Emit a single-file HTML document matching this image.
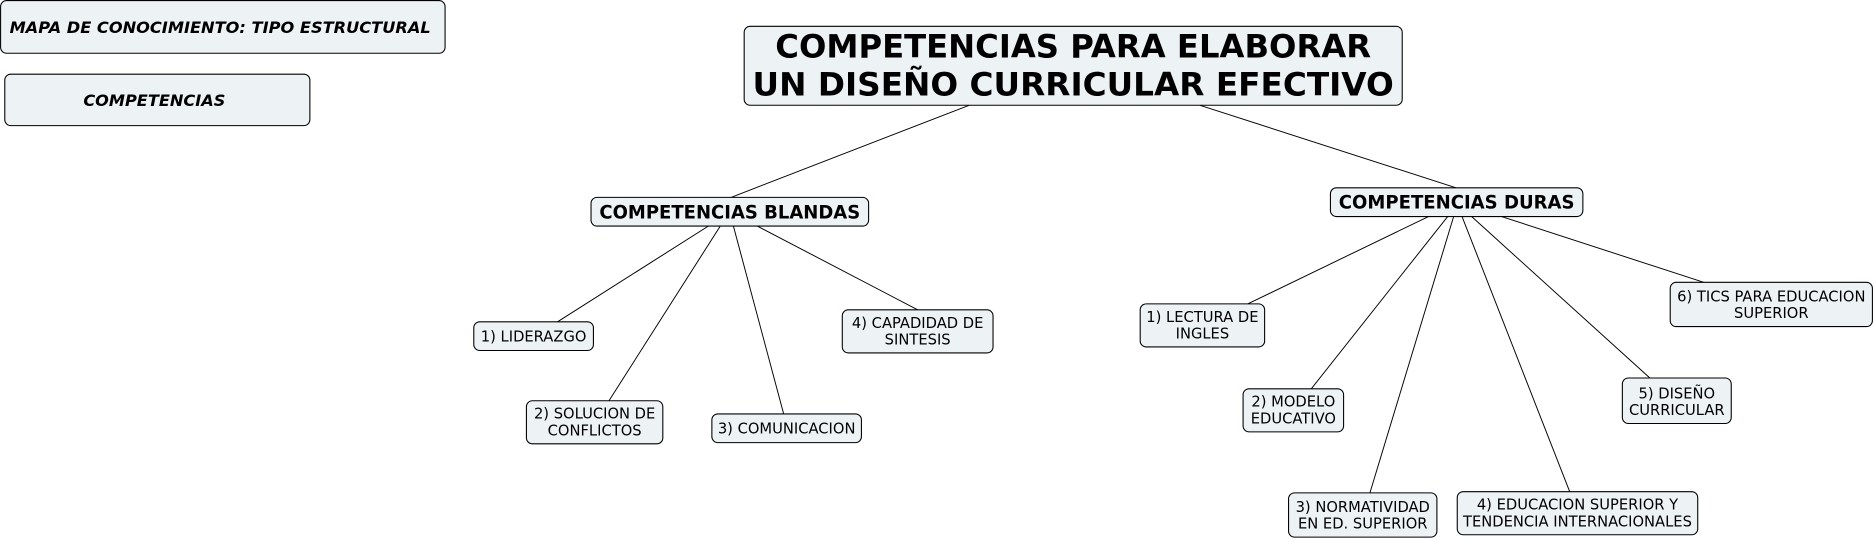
<!DOCTYPE html>
<html><head><meta charset="utf-8"><style>
html,body{margin:0;padding:0;background:#fff;}
svg{display:block;}
text{font-family:"DejaVu Sans","Liberation Sans",sans-serif;fill:#000;text-anchor:middle;}
rect{fill:#edf3f5;stroke:#000;stroke-width:0.9;}
line{stroke:#000;stroke-width:0.8;}
.l{font-size:12.3px;}
.m{font-size:15.5px;font-weight:bold;}
.t{font-size:27px;font-weight:bold;}
.i{font-size:13.5px;font-weight:bold;font-style:italic;}
</style></head><body>
<svg width="1876" height="540" viewBox="0 0 1568 451.4" preserveAspectRatio="none">
<line x1="810" y1="88" x2="611" y2="165"/>
<line x1="1003" y1="88" x2="1217" y2="157"/>
<line x1="592" y1="189" x2="466" y2="269"/>
<line x1="602" y1="189" x2="509" y2="335"/>
<line x1="613" y1="189" x2="655" y2="346"/>
<line x1="633" y1="189" x2="767" y2="259"/>
<line x1="1194" y1="181" x2="1043" y2="254"/>
<line x1="1210" y1="181" x2="1096" y2="325"/>
<line x1="1215" y1="181" x2="1145" y2="412"/>
<line x1="1222" y1="181" x2="1312" y2="411"/>
<line x1="1230" y1="181" x2="1379" y2="316"/>
<line x1="1255" y1="181" x2="1424" y2="236"/>

<rect x="0.5" y="0.5" width="371.5" height="44" rx="5"/>
<text class="i" x="184" y="27.5" textLength="352" lengthAdjust="spacingAndGlyphs">MAPA DE CONOCIMIENTO: TIPO ESTRUCTURAL</text>
<rect x="4" y="62" width="255" height="43" rx="5"/>
<text class="i" x="129" y="88.5">COMPETENCIAS</text>

<rect x="622" y="22" width="550" height="66" rx="5"/>
<text class="t" x="897" y="48" textLength="498" lengthAdjust="spacingAndGlyphs">COMPETENCIAS PARA ELABORAR</text>
<text class="t" x="897" y="80" textLength="536" lengthAdjust="spacingAndGlyphs">UN DISEÑO CURRICULAR EFECTIVO</text>

<rect x="494" y="165" width="232" height="24" rx="5"/>
<text class="m" x="610" y="182.5" textLength="218" lengthAdjust="spacingAndGlyphs">COMPETENCIAS BLANDAS</text>
<rect x="1112" y="157" width="211" height="24" rx="5"/>
<text class="m" x="1217.5" y="174.5" textLength="197" lengthAdjust="spacingAndGlyphs">COMPETENCIAS DURAS</text>

<rect x="396" y="269" width="100" height="24" rx="5"/>
<text class="l" x="446" y="285.5">1) LIDERAZGO</text>
<rect x="440" y="335" width="114" height="36" rx="5"/>
<text class="l" x="497" y="350">2) SOLUCION DE</text>
<text class="l" x="497" y="364">CONFLICTOS</text>
<rect x="595" y="346" width="125" height="24" rx="5"/>
<text class="l" x="657.5" y="362.5">3) COMUNICACION</text>
<rect x="704" y="259" width="126" height="36" rx="5"/>
<text class="l" x="767" y="274">4) CAPADIDAD DE</text>
<text class="l" x="767" y="288">SINTESIS</text>

<rect x="953" y="254" width="104" height="36" rx="5"/>
<text class="l" x="1005" y="269">1) LECTURA DE</text>
<text class="l" x="1005" y="283">INGLES</text>
<rect x="1039" y="325" width="84" height="36" rx="5"/>
<text class="l" x="1081" y="340">2) MODELO</text>
<text class="l" x="1081" y="354">EDUCATIVO</text>
<rect x="1077" y="412" width="124" height="37" rx="5"/>
<text class="l" x="1139" y="428">3) NORMATIVIDAD</text>
<text class="l" x="1139" y="442">EN ED. SUPERIOR</text>
<rect x="1218" y="411" width="201" height="36" rx="5"/>
<text class="l" x="1318.5" y="426">4) EDUCACION SUPERIOR Y</text>
<text class="l" x="1318.5" y="440">TENDENCIA INTERNACIONALES</text>
<rect x="1356" y="316" width="91" height="38" rx="5"/>
<text class="l" x="1401.5" y="333">5) DISEÑO</text>
<text class="l" x="1401.5" y="347">CURRICULAR</text>
<rect x="1396" y="236" width="169" height="37" rx="5"/>
<text class="l" x="1480.5" y="252">6) TICS PARA EDUCACION</text>
<text class="l" x="1480.5" y="266">SUPERIOR</text>
</svg>
</body></html>
